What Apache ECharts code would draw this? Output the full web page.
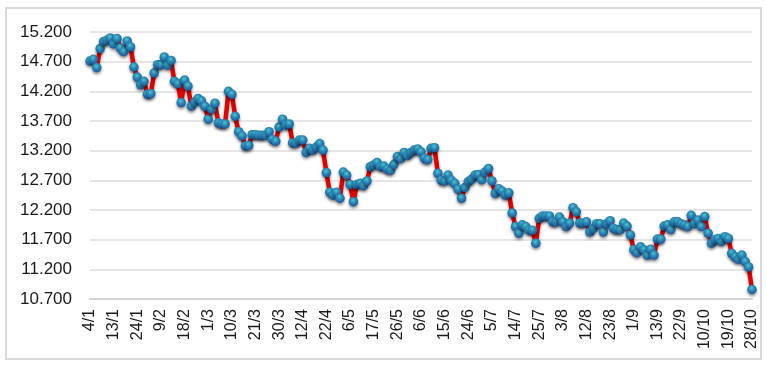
<!DOCTYPE html>
<html>
<head>
<meta charset="utf-8">
<script src="https://cdn.jsdelivr.net/npm/echarts@6/dist/echarts.min.js"></script>
<style>
html,body{margin:0;padding:0;background:#fff;}
#chart{width:767px;height:366px;}
</style>
</head>
<body>
<div id="chart"></div>
<script>
// Tick labels shown on the category axis (every 7th point)
var tickLabels = ['4/1','13/1','24/1','9/2','18/2','1/3','10/3','21/3','30/3','12/4','22/4','6/5','17/5','26/5','6/6','15/6','24/6','5/7','14/7','25/7','3/8','12/8','23/8','1/9','13/9','22/9','10/10','19/10','28/10'];
var labelStep = 7;

// Series values
var prices = [
  14.71, 14.74, 14.60, 14.92, 15.04, 15.06, 15.10, 15.00, 15.09, 14.93,
  14.87, 15.05, 14.95, 14.61, 14.44, 14.31, 14.37, 14.15, 14.16, 14.51,
  14.65, 14.65, 14.78, 14.64, 14.72, 14.37, 14.33, 14.01, 14.39, 14.29,
  13.95, 14.02, 14.08, 14.04, 13.95, 13.73, 13.90, 14.00, 13.67, 13.65,
  13.65, 14.20, 14.15, 13.78, 13.52, 13.45, 13.28, 13.29, 13.47, 13.47,
  13.46, 13.46, 13.46, 13.52, 13.39, 13.36, 13.60, 13.73, 13.63, 13.65,
  13.33, 13.33, 13.38, 13.38, 13.17, 13.24, 13.21, 13.26, 13.32, 13.21,
  12.83, 12.50, 12.45, 12.50, 12.40, 12.84, 12.79, 12.63, 12.34, 12.63,
  12.65, 12.61, 12.69, 12.93, 12.96, 13.00, 12.93, 12.94, 12.89, 12.87,
  12.97, 13.10, 13.07, 13.17, 13.12, 13.17, 13.21, 13.23, 13.18, 13.07,
  13.05, 13.24, 13.25, 12.82, 12.70, 12.69, 12.79, 12.70, 12.65, 12.55,
  12.40, 12.58, 12.68, 12.72, 12.79, 12.80, 12.71, 12.84, 12.90, 12.69,
  12.48, 12.56, 12.52, 12.45, 12.49, 12.15, 11.92, 11.81, 11.95, 11.92,
  11.86, 11.86, 11.64, 12.06, 12.10, 12.10, 12.10, 12.00, 12.00, 12.08,
  12.00, 11.92, 11.98, 12.24, 12.17, 11.98, 11.98, 12.00, 11.83, 11.89,
  11.97, 11.97, 11.83, 11.97, 12.02, 11.89, 11.87, 11.87, 11.98, 11.93,
  11.78, 11.53, 11.48, 11.58, 11.53, 11.44, 11.54, 11.44, 11.71, 11.71,
  11.93, 11.95, 11.87, 12.00, 12.00, 11.97, 11.95, 11.92, 12.11, 11.97,
  12.03, 11.92, 12.09, 11.81, 11.64, 11.70, 11.72, 11.67, 11.75, 11.72,
  11.47, 11.41, 11.37, 11.44, 11.33, 11.24, 10.86
];

// Y axis ticks
var yMin = 10.7, yMax = 15.2, yStep = 0.5;

var categories = prices.map(function (v, i) {
  return (i % labelStep === 0 && tickLabels[i / labelStep] !== undefined) ? tickLabels[i / labelStep] : '';
});

var chart = echarts.init(document.getElementById('chart'), null, {renderer: 'canvas'});
var font = '"Liberation Sans", Arial, sans-serif';

chart.setOption({
  animation: false,
  backgroundColor: '#ffffff',
  graphic: [{
    type: 'rect',
    shape: {x: 6, y: 8, width: 755, height: 351},
    style: {fill: 'none', stroke: '#d9d9d9', lineWidth: 2},
    silent: true
  }],
  grid: {left: 90, right: 15, top: 32, bottom: 67, containLabel: false},
  xAxis: {
    type: 'category',
    data: categories,
    boundaryGap: false,
    axisLine: {show: true, lineStyle: {color: '#d4d4d4', width: 2}},
    axisTick: {show: false},
    axisLabel: {
      interval: 0,
      rotate: 90,
      margin: 10,
      color: '#1a1a1a',
      fontSize: 16,
      fontFamily: font
    },
    splitLine: {show: false}
  },
  yAxis: {
    type: 'value',
    min: yMin,
    max: yMax,
    interval: yStep,
    axisLine: {show: false},
    axisTick: {show: false},
    axisLabel: {
      margin: 18,
      color: '#1a1a1a',
      fontSize: 17,
      fontFamily: font,
      formatter: function (v) { return v.toFixed(3); }
    },
    splitLine: {show: true, lineStyle: {color: '#dcdcdc', width: 1.5}}
  },
  series: [{
    type: 'line',
    data: prices,
    showSymbol: true,
    showAllSymbol: true,
    symbol: 'circle',
    symbolSize: 9.5,
    lineStyle: {
      color: '#e00000',
      width: 4.5,
      shadowColor: 'rgba(0,0,0,0.35)',
      shadowBlur: 3,
      shadowOffsetY: 2
    },
    itemStyle: {
      color: new echarts.graphic.RadialGradient(0.45, 0.35, 0.7, [
        {offset: 0, color: '#4fc7bf'},
        {offset: 0.4, color: '#2a8cbc'},
        {offset: 1, color: '#1a4f92'}
      ]),
      borderWidth: 0,
      shadowColor: 'rgba(0,0,0,0.45)',
      shadowBlur: 3,
      shadowOffsetY: 2
    },
    emphasis: {disabled: true}
  }]
});
</script>
</body>
</html>
